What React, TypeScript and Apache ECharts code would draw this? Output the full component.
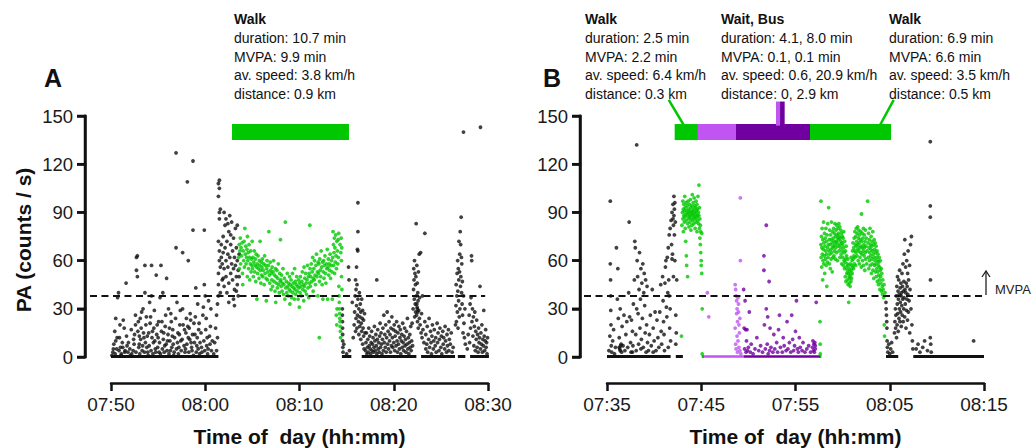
import React, { useEffect, useRef } from "react";
import * as echarts from "echarts";

// ---------- axes ----------
const START_A = 7 * 60 + 50; // 07:50
const START_B = 7 * 60 + 35; // 07:35
const X_MAX = 40;
const X_STEP = 10;
const Y_MAX = 150;
const Y_STEP = 30;
const Y_TICKS = [0, 30, 60, 90, 120, 150];
const MVPA_THRESHOLD = 38;

// ---------- texts ----------
const yTitle = "PA (counts / s)";
const xTitle = "Time of  day (hh:mm)";
const noteA = ["Walk", "duration: 10.7 min", "MVPA: 9.9 min", "av. speed: 3.8 km/h", "distance: 0.9 km"];
const noteB1 = ["Walk", "duration: 2.5 min", "MVPA: 2.2 min", "av. speed: 6.4 km/h", "distance: 0.3 km"];
const noteB2 = ["Wait, Bus", "duration: 4.1, 8.0 min", "MVPA: 0.1, 0.1 min", "av. speed: 0.6, 20.9 km/h", "distance: 0, 2.9 km"];
const noteB3 = ["Walk", "duration: 6.9 min", "MVPA: 6.6 min", "av. speed: 3.5 km/h", "distance: 0.5 km"];

// ---------- episode bars (minutes from panel start) ----------
const barWalkA = [[12.84, 25.25]];
const barWalkB = [[7.18, 9.65], [21.54, 30.14]];
const barWaitB = [[9.65, 13.68]];
const barBusB = [[13.68, 21.54]];
const stickWaitB = [[17.93, 18.36]];
const stickBusB = [[18.36, 18.85]];
const connectorsB = [[6.55, 8.14], [30.42, 28.97]];
const thresholdSpanA = [-2.23, 39.7];
const thresholdSpanB = [-2.44, 39.8];

// ---------- runs of zero counts [from, to] ----------
const zeroA = [[0, 11.4], [24.5, 25.5], [26.6, 32.4], [32.9, 36.5], [36.8, 37.6], [38.1, 40.1]];
const zeroBBlack = [[0, 6.75], [7.3, 8.05], [29.6, 30.9], [32.5, 40.0]];
const zeroBWalk = [[10.05, 10.3], [22.55, 22.75]];
const zeroBWait = [[10.3, 14.5]];
const zeroBBus = [[14.5, 22.6]];

// ---------- panel A, counts per second (minute, counts) ----------
const restA = [[0.2,3],[0.3,8],[0.4,16],[0.5,24],[0.5,10],[0.6,5],[0.7,37],[0.8,40],[0.9,12],[1.0,6],[1.1,2],[1.2,9],[1.3,23],[1.4,18],[1.5,4],[1.6,46],[1.7,7],[1.8,3],[2.0,5],[2.2,2],[2.4,11],[2.5,14],[2.6,20],[2.6,26],[2.7,62],[2.7,54],[2.8,63],[2.8,50],[2.9,22],[3.0,13],[3.0,8],[3.1,24],[3.2,18],[3.3,4],[3.4,30],[3.5,12],[3.6,57],[3.6,40],[3.7,20],[3.8,6],[3.9,3],[4.0,15],[4.1,34],[4.2,25],[4.3,57],[4.3,38],[4.4,16],[4.5,9],[4.6,29],[4.7,5],[4.8,51],[4.9,20],[5.0,12],[5.1,3],[5.2,37],[5.3,57],[5.4,22],[5.5,40],[5.6,15],[5.7,7],[5.8,26],[5.9,49],[6.0,10],[6.1,30],[6.2,18],[6.3,4],[6.4,22],[6.5,13],[6.6,8],[6.7,3],[6.9,68],[6.9,127],[7.0,34],[7.1,15],[7.2,6],[7.3,20],[7.4,10],[7.6,65],[7.6,30],[7.8,17],[7.9,5],[8.0,24],[8.1,109],[8.2,60],[8.2,12],[8.3,18],[8.4,27],[8.5,9],[8.6,4],[8.7,122],[8.7,79],[8.8,21],[8.9,14],[9.0,43],[9.1,7],[9.2,33],[9.3,17],[9.4,2],[9.6,6],[9.8,31],[9.9,79],[9.9,45],[10.0,38],[10.1,24],[10.2,12],[10.3,5],[10.5,8],[10.6,30]];
const restALow = [[0.1,1],[0.25,5],[0.45,2],[0.65,12],[0.85,4],[0.95,20],[1.05,1],[1.25,6],[1.45,3],[1.65,13],[1.85,9],[2.05,1],[2.15,17],[2.35,4],[2.45,8],[2.65,3],[2.85,16],[2.95,6],[3.05,2],[3.15,11],[3.25,28],[3.35,7],[3.45,15],[3.55,3],[3.65,9],[3.75,25],[3.85,13],[3.95,1],[4.05,7],[4.15,21],[4.25,4],[4.35,12],[4.45,2],[4.55,18],[4.65,10],[4.75,3],[4.85,14],[4.95,6],[5.05,22],[5.15,9],[5.25,2],[5.35,16],[5.45,5],[5.55,11],[5.65,3],[5.75,19],[5.85,8],[5.95,4],[6.05,14],[6.15,2],[6.25,10],[6.35,27],[6.45,6],[6.55,17],[6.65,1],[6.75,12],[6.85,24],[6.95,5],[7.05,9],[7.15,2],[7.25,14],[7.35,29],[7.45,4],[7.55,11],[7.65,20],[7.75,7],[7.85,3],[7.95,15],[8.05,8],[8.15,19],[8.25,3],[8.35,11],[8.45,23],[8.55,6],[8.65,14],[8.75,1],[8.85,9],[8.95,25],[9.05,3],[9.15,12],[9.25,5],[9.35,21],[9.45,9],[9.55,15],[9.65,3],[9.75,26],[9.85,10],[9.95,4],[10.05,17],[10.15,7],[10.25,2],[10.35,35],[10.45,13],[10.55,19],[10.65,4],[10.75,10]];
const riseA = [[10.9,2],[11.0,9],[11.1,18],[11.2,26],[11.2,4],[11.3,33],[11.3,12],[11.4,38],[11.4,45],[11.4,52],[11.5,60],[11.5,66],[11.4,72],[11.5,86],[11.5,90],[11.4,100],[11.5,105],[11.4,108],[11.5,110],[11.6,92],[11.6,56],[11.6,40],[11.7,62],[11.7,70],[11.8,48],[11.8,58],[11.9,65],[11.9,75],[12.0,55],[12.0,44],[12.1,82],[12.1,68],[12.2,60],[12.2,50],[12.3,72],[12.3,40],[12.4,64],[12.4,56],[12.5,78],[12.5,46],[12.6,88],[12.6,62],[12.7,70],[12.7,52],[12.8,84],[12.8,58],[12.9,66],[12.9,48],[13.0,74],[13.0,55],[13.1,62],[13.1,42],[13.2,80],[13.2,57],[13.3,50],[13.3,68],[13.4,60],[13.4,45],[13.5,54],[13.5,38],[13.6,64],[13.6,50],[12.0,90],[12.5,34],[13.0,36],[12.2,86],[13.3,41],[12.7,76],[11.9,49],[12.4,83],[13.1,32],[13.4,82]];
const walkA = [[13.55,62],[13.6,70],[13.62,55],[13.68,66],[13.72,74],[13.75,58],[13.8,68],[13.85,63],[13.9,71],[13.95,52],[13.98,45],[14.02,66],[14.08,60],[14.12,72],[14.15,56],[14.2,80],[14.25,64],[14.3,69],[14.33,58],[14.38,62],[14.42,67],[14.46,50],[14.48,75],[14.52,60],[14.56,65],[14.6,55],[14.65,70],[14.7,62],[14.72,48],[14.78,58],[14.82,66],[14.86,53],[14.9,61],[14.95,57],[14.98,72],[15.02,55],[15.06,62],[15.1,50],[15.15,59],[15.2,66],[15.24,53],[15.28,57],[15.32,61],[15.36,47],[15.4,64],[15.45,56],[15.48,36],[15.52,58],[15.56,52],[15.6,63],[15.64,55],[15.7,49],[15.74,60],[15.78,57],[15.82,72],[15.86,54],[15.9,46],[15.95,59],[15.98,51],[16.02,56],[16.06,61],[16.1,50],[16.15,54],[16.2,58],[16.25,45],[16.3,63],[16.35,52],[16.4,57],[16.45,49],[16.48,35],[16.52,55],[16.56,60],[16.6,48],[16.65,53],[16.7,57],[16.75,78],[16.8,51],[16.85,46],[16.9,59],[16.95,54],[16.98,42],[17.02,52],[17.06,48],[17.1,56],[17.15,44],[17.2,53],[17.25,60],[17.3,47],[17.35,51],[17.4,41],[17.45,55],[17.48,34],[17.52,50],[17.56,46],[17.6,54],[17.65,43],[17.7,49],[17.75,58],[17.8,45],[17.85,40],[17.9,52],[17.95,47],[17.98,73],[18.02,48],[18.06,44],[18.1,51],[18.15,41],[18.2,46],[18.25,55],[18.3,39],[18.35,45],[18.4,49],[18.45,36],[18.5,84],[18.55,43],[18.6,47],[18.65,40],[18.7,52],[18.75,44],[18.8,38],[18.85,46],[18.9,42],[18.95,50],[18.98,33],[19.02,45],[19.06,41],[19.1,48],[19.15,37],[19.2,44],[19.25,52],[19.3,40],[19.35,46],[19.4,43],[19.45,36],[19.48,55],[19.52,42],[19.56,47],[19.6,39],[19.65,45],[19.7,50],[19.75,41],[19.8,44],[19.85,36],[19.9,48],[19.95,43],[19.98,31],[20.02,46],[20.06,40],[20.1,50],[20.15,44],[20.2,38],[20.25,47],[20.3,53],[20.35,42],[20.4,45],[20.45,35],[20.48,56],[20.52,44],[20.56,49],[20.6,41],[20.65,52],[20.7,46],[20.75,39],[20.8,48],[20.85,57],[20.9,43],[20.95,50],[20.98,37],[21.02,52],[21.06,46],[21.1,82],[21.12,55],[21.15,44],[21.2,50],[21.25,58],[21.3,47],[21.35,53],[21.4,62],[21.45,41],[21.48,49],[21.52,55],[21.56,48],[21.6,60],[21.65,51],[21.7,45],[21.75,57],[21.8,64],[21.85,50],[21.9,53],[21.95,38],[21.98,59],[22.02,52],[22.06,58],[22.1,12],[22.12,47],[22.15,61],[22.2,54],[22.25,50],[22.3,66],[22.35,56],[22.4,45],[22.45,59],[22.48,36],[22.52,53],[22.56,60],[22.6,49],[22.65,57],[22.7,63],[22.75,52],[22.8,46],[22.85,58],[22.9,55],[22.95,67],[22.98,36],[23.02,56],[23.06,61],[23.1,51],[23.15,58],[23.2,54],[23.25,64],[23.3,49],[23.35,57],[23.4,60],[23.45,53],[23.48,36],[23.52,62],[23.56,78],[23.6,70],[23.62,57],[23.66,65],[23.7,74],[23.72,52],[23.76,68],[23.8,59],[23.84,76],[23.88,63],[23.92,55],[23.96,72],[23.98,30],[24.02,66],[24.06,58],[24.1,73],[24.12,62],[24.16,77],[24.18,44],[24.2,38],[24.22,34],[24.24,30],[24.26,27],[24.28,24],[24.3,22],[24.32,19],[24.34,16],[24.36,12],[24.3,70],[24.38,65],[24.42,74],[24.45,60],[24.48,68],[24.5,42],[24.46,50],[23.9,26],[23.95,20]];
const afterA = [[24.55,30],[24.55,26],[24.56,22],[24.57,18],[24.58,14],[24.58,10],[24.6,6],[24.62,3],[24.7,8],[25.0,2],[25.3,4],[25.2,56],[25.25,48],[25.6,34],[25.7,12],[25.8,20],[25.85,28],[25.9,38],[25.95,16],[26.0,42],[26.0,24],[26.05,32],[26.1,18],[26.1,45],[26.15,26],[26.2,96],[26.2,78],[26.15,67],[26.18,66],[26.2,36],[26.25,22],[26.3,30],[26.3,14],[26.35,40],[26.4,25],[26.4,19],[26.45,33],[26.5,28],[26.5,11],[26.55,21],[26.6,36],[26.6,16],[26.65,24],[26.7,29],[26.7,8],[26.75,18],[26.8,13],[26.8,23],[26.85,5],[26.9,27],[26.95,15],[25.95,48],[26.05,56]];
const lowA1 = [[27.0,4],[27.05,9],[27.1,15],[27.15,2],[27.2,6],[27.25,11],[27.3,3],[27.35,18],[27.4,7],[27.45,13],[27.5,5],[27.55,2],[27.6,9],[27.65,16],[27.7,4],[27.75,8],[27.8,12],[27.85,3],[27.9,6],[27.95,19],[28.0,10],[28.05,4],[28.1,14],[28.15,7],[28.2,48],[28.2,2],[28.25,11],[28.3,17],[28.35,5],[28.4,9],[28.45,3],[28.5,13],[28.55,21],[28.6,6],[28.65,15],[28.7,8],[28.75,2],[28.8,11],[28.85,18],[28.9,4],[28.95,26],[29.0,9],[29.05,14],[29.1,6],[29.15,20],[29.2,3],[29.25,12],[29.3,28],[29.35,8],[29.4,16],[29.45,5],[29.5,22],[29.55,10],[29.6,14],[29.65,3],[29.7,18],[29.75,7],[29.8,25],[29.85,12],[29.9,6],[29.95,17],[30.0,9],[30.05,20],[30.1,4],[30.15,13],[30.2,16],[30.25,7],[30.3,22],[30.35,10],[30.4,3],[30.45,15],[30.5,8],[30.55,19],[30.6,5],[30.65,12],[30.7,17],[30.75,2],[30.8,10],[30.85,14],[30.9,6],[30.95,21],[31.0,9],[31.05,4],[31.1,13],[31.15,18],[31.2,7],[31.25,11],[31.3,3],[31.35,16],[31.4,8],[31.45,24],[31.5,5],[31.55,12],[31.6,2],[31.65,9],[31.7,14],[31.75,6],[31.8,19],[31.85,4],[31.9,10],[31.95,21],[32.0,7]];
const peakA1 = [[32.05,30],[32.1,42],[32.12,55],[32.15,48],[32.18,36],[32.2,60],[32.22,25],[32.25,52],[32.28,33],[32.3,45],[32.32,28],[32.35,50],[32.38,83],[32.4,38],[32.42,26],[32.45,57],[32.48,31],[32.5,46],[32.52,22],[32.55,40],[32.58,35],[32.6,18],[32.62,53],[32.65,29],[32.7,64],[32.72,24],[32.75,37],[32.8,20],[32.85,65],[32.9,15],[32.95,27],[33.0,12],[33.05,38],[33.1,17],[33.2,9],[33.3,77],[33.3,22],[33.4,5],[32.5,30],[32.55,28],[32.45,33]];
const lowA2 = [[33.4,14],[33.5,8],[33.55,19],[33.6,3],[33.7,11],[33.75,24],[33.8,6],[33.9,16],[33.95,9],[34.0,2],[34.05,13],[34.1,20],[34.2,5],[34.25,10],[34.3,17],[34.4,7],[34.45,12],[34.5,3],[34.6,21],[34.65,9],[34.7,15],[34.8,4],[34.85,11],[34.9,18],[35.0,6],[35.05,13],[35.1,2],[35.2,16],[35.25,8],[35.3,12],[35.4,5],[35.45,19],[35.5,10],[35.6,3],[35.65,14],[35.7,7],[35.8,17],[35.85,4],[35.9,11],[36.0,8],[36.1,15],[36.2,3],[36.3,6]];
const peakA2 = [[36.55,20],[36.6,32],[36.62,45],[36.65,22],[36.7,38],[36.72,52],[36.75,28],[36.78,60],[36.8,41],[36.82,18],[36.85,55],[36.88,35],[36.9,48],[36.92,72],[36.95,25],[36.98,53],[37.0,64],[37.02,30],[37.05,78],[37.08,44],[37.1,70],[37.12,50],[37.15,87],[37.18,62],[37.2,40],[37.22,58],[37.25,33],[37.28,47],[37.3,26],[37.35,15],[37.4,140],[37.4,38],[37.45,21],[37.5,12],[37.55,30],[37.6,8]];
const lowA3 = [[37.8,5],[37.9,14],[38.0,26],[38.05,9],[38.1,33],[38.15,18],[38.2,37],[38.25,63],[38.27,60],[38.3,22],[38.35,30],[38.4,13],[38.45,25],[38.5,7],[38.55,19],[38.6,28],[38.65,4],[38.7,16],[38.75,11],[38.8,23],[38.85,6],[38.9,14],[38.95,3],[39.0,18],[39.05,9],[39.1,12],[39.15,44],[39.2,143],[39.2,5],[39.25,15],[39.3,8],[39.35,20],[39.4,3],[39.45,11],[39.5,7],[39.55,29],[39.6,13],[39.65,4],[39.7,10],[39.75,17],[39.8,6],[39.85,9],[39.9,2],[39.95,12]];

// ---------- panel B, counts per second (minute, counts) ----------
const restB = [[0.2,4],[0.3,13],[0.35,97],[0.35,58],[0.38,48],[0.4,38],[0.4,29],[0.42,20],[0.45,7],[0.5,3],[0.6,10],[0.7,17],[0.8,2],[0.9,6],[1.0,68],[1.1,36],[1.15,55],[1.2,24],[1.3,12],[1.35,5],[1.4,30],[1.5,8],[1.55,3],[1.6,19],[1.7,7],[1.8,26],[1.9,4],[2.0,14],[2.1,22],[2.2,6],[2.3,40],[2.35,84],[2.4,25],[2.5,9],[2.55,3],[2.6,23],[2.7,16],[2.75,7],[2.8,33],[2.9,48],[2.95,72],[3.0,68],[3.05,14],[3.1,4],[3.15,132],[3.15,30],[3.2,60],[3.25,50],[3.3,27],[3.35,8],[3.4,42],[3.45,65],[3.5,18],[3.55,36],[3.6,55],[3.65,11],[3.7,46],[3.75,24],[3.8,58],[3.85,6],[3.9,40],[3.95,52],[4.0,32],[4.05,15],[4.1,48],[4.15,3],[4.2,20],[4.25,44],[4.3,9],[4.4,4],[4.5,14],[4.6,26],[4.7,7],[4.8,42],[4.9,18],[5.0,10],[5.1,28],[5.2,4],[5.3,23],[5.4,12],[5.5,6],[5.6,28],[5.7,45],[5.75,16],[5.8,8],[5.9,50],[5.95,35],[6.0,22],[6.05,14],[6.1,4],[6.15,46],[6.2,56],[6.25,60],[6.3,31],[6.35,25],[6.4,62],[6.45,40],[6.5,6],[6.5,68],[6.55,48],[6.6,76],[6.6,38],[6.65,18],[6.7,80],[6.7,30],[6.75,10],[6.8,85],[6.85,70],[6.9,90],[6.9,61],[6.95,64],[7.0,95],[7.0,86],[7.05,82],[7.05,50],[7.1,100],[7.1,88],[7.15,92],[7.15,76],[7.2,96],[7.2,60],[7.25,84],[7.3,26],[7.35,15],[7.3,8],[7.4,48],[1.3,6],[1.4,4],[1.45,7],[2.7,3],[3.6,5],[4.9,3]];
const walkB1 = [[7.9,13],[7.95,82],[8.0,90],[8.05,97],[8.05,86],[8.1,92],[8.1,78],[8.15,88],[8.15,95],[8.2,84],[8.2,91],[8.25,100],[8.25,87],[8.3,93],[8.3,80],[8.35,72],[8.35,89],[8.4,96],[8.4,85],[8.42,63],[8.45,91],[8.45,57],[8.5,88],[8.5,94],[8.55,83],[8.55,50],[8.6,90],[8.6,97],[8.65,86],[8.65,92],[8.7,81],[8.7,89],[8.75,95],[8.75,87],[8.8,91],[8.8,84],[8.85,98],[8.85,88],[8.9,93],[8.9,79],[8.95,90],[8.95,86],[9.0,94],[9.0,82],[9.05,89],[9.05,101],[9.1,91],[9.1,85],[9.15,96],[9.15,88],[9.2,92],[9.2,83],[9.25,99],[9.25,87],[9.3,90],[9.3,94],[9.35,86],[9.35,80],[9.4,93],[9.4,89],[9.45,84],[9.45,97],[9.5,91],[9.5,87],[9.55,95],[9.55,78],[9.6,88],[9.6,92],[9.65,85],[9.65,100],[9.7,90],[9.7,83],[9.75,107],[9.75,88],[9.8,93],[9.8,80],[9.85,86],[9.85,74],[9.9,82],[9.9,70],[9.95,78],[9.95,65],[10.0,60],[10.0,57],[10.05,52],[10.05,77],[10.1,30],[10.1,2]];
const waitB = [[10.65,40],[10.8,25],[13.6,45],[13.65,42],[13.6,18],[13.65,8],[13.7,38],[13.7,5],[13.75,35],[13.75,27],[13.8,30],[13.8,13],[13.85,22],[13.85,3],[13.9,37],[13.9,10],[13.95,33],[13.95,28],[14.0,20],[14.0,6],[14.05,15],[14.1,4],[14.15,99],[14.15,60],[14.2,2],[14.1,24]];
const busB = [[14.5,42],[14.55,18],[14.6,5],[14.65,35],[14.7,17],[14.75,3],[14.8,10],[14.85,17],[14.9,4],[15.0,6],[15.1,28],[15.2,3],[15.3,8],[15.5,2],[15.7,5],[15.9,12],[16.1,4],[16.3,7],[16.5,3],[16.65,63],[16.65,54],[16.7,20],[16.8,5],[16.9,82],[16.9,30],[17.0,8],[17.05,25],[17.1,2],[17.2,47],[17.25,4],[17.3,18],[17.4,6],[17.6,3],[17.7,14],[17.8,5],[18.0,9],[18.1,3],[18.2,17],[18.3,26],[18.4,6],[18.6,3],[18.7,12],[18.8,7],[19.0,4],[19.1,22],[19.2,5],[19.35,9],[19.5,3],[19.6,26],[19.7,11],[19.8,4],[19.9,7],[20.0,16],[20.1,35],[20.2,5],[20.3,3],[20.4,12],[20.5,6],[20.7,4],[20.8,9],[21.0,3],[21.2,5],[21.4,7],[21.6,3],[21.8,6],[21.85,10],[21.9,4],[21.95,8],[22.0,3],[22.05,9],[22.1,5],[22.1,7],[22.2,34]];
const walkB2 = [[22.6,22],[22.62,8],[22.63,2],[22.7,97],[22.7,70],[22.72,62],[22.75,75],[22.78,56],[22.8,68],[22.82,80],[22.85,64],[22.88,48],[22.9,73],[22.92,60],[22.95,67],[22.98,84],[23.0,58],[23.02,71],[23.05,63],[23.08,77],[23.1,52],[23.12,69],[23.15,74],[23.18,61],[23.2,66],[23.22,80],[23.25,57],[23.28,72],[23.3,64],[23.32,44],[23.35,76],[23.38,59],[23.4,68],[23.42,83],[23.45,62],[23.48,70],[23.52,93],[23.55,66],[23.58,73],[23.6,58],[23.62,79],[23.65,64],[23.68,70],[23.7,55],[23.72,76],[23.75,67],[23.78,61],[23.8,73],[23.82,84],[23.85,65],[23.88,71],[23.9,53],[23.92,78],[23.95,68],[23.98,62],[24.0,74],[24.02,69],[24.05,80],[24.08,63],[24.1,72],[24.12,77],[24.15,66],[24.18,83],[24.2,70],[24.22,61],[24.25,75],[24.28,68],[24.3,79],[24.32,72],[24.35,65],[24.38,82],[24.4,71],[24.42,76],[24.45,60],[24.48,74],[24.5,80],[24.52,69],[24.55,77],[24.58,73],[24.6,83],[24.62,66],[24.65,75],[24.68,70],[24.7,81],[24.72,62],[24.75,74],[24.78,68],[24.8,79],[24.82,72],[24.85,64],[24.88,77],[24.9,58],[24.92,71],[24.95,66],[24.98,75],[25.0,70],[25.02,62],[25.05,74],[25.08,57],[25.1,68],[25.12,78],[25.15,60],[25.18,65],[25.2,55],[25.22,72],[25.25,59],[25.28,50],[25.3,66],[25.32,61],[25.35,47],[25.38,69],[25.4,56],[25.42,63],[25.45,52],[25.48,58],[25.5,48],[25.52,54],[25.55,61],[25.58,45],[25.6,52],[25.62,57],[25.65,34],[25.68,50],[25.7,46],[25.72,55],[25.75,49],[25.78,53],[25.8,44],[25.82,58],[25.85,51],[25.88,47],[25.9,62],[25.92,54],[25.95,49],[25.98,57],[26.0,60],[26.02,52],[26.05,66],[26.08,56],[26.1,71],[26.12,61],[26.15,55],[26.18,68],[26.2,63],[26.22,74],[26.25,58],[26.28,66],[26.3,78],[26.32,62],[26.35,70],[26.38,57],[26.4,75],[26.42,65],[26.45,80],[26.48,69],[26.5,72],[26.52,63],[26.55,77],[26.58,67],[26.6,81],[26.62,70],[26.65,60],[26.68,74],[26.7,66],[26.72,79],[26.75,71],[26.78,58],[26.8,76],[26.82,68],[26.85,62],[26.88,73],[26.9,65],[26.92,78],[26.95,69],[26.98,56],[27.0,89],[27.02,72],[27.05,64],[27.08,77],[27.1,68],[27.12,60],[27.15,74],[27.18,66],[27.2,80],[27.22,57],[27.25,70],[27.28,63],[27.3,76],[27.32,68],[27.35,54],[27.38,72],[27.4,65],[27.42,79],[27.45,61],[27.48,69],[27.5,74],[27.55,58],[27.6,66],[27.65,97],[27.7,71],[27.72,62],[27.75,77],[27.78,55],[27.8,68],[27.82,73],[27.85,60],[27.88,65],[27.9,80],[27.92,57],[27.95,70],[27.98,63],[28.0,67],[28.02,75],[28.05,52],[28.08,69],[28.1,61],[28.12,72],[28.15,58],[28.18,66],[28.2,78],[28.22,54],[28.25,64],[28.28,70],[28.3,49],[28.32,62],[28.35,73],[28.38,57],[28.4,67],[28.42,60],[28.45,71],[28.48,53],[28.5,65],[28.52,58],[28.55,69],[28.58,50],[28.6,62],[28.62,55],[28.65,66],[28.68,47],[28.7,60],[28.72,53],[28.75,64],[28.78,57],[28.8,45],[28.82,59],[28.85,51],[28.88,62],[28.9,48],[28.92,56],[28.95,42],[28.98,54],[29.0,60],[29.03,50],[29.06,46],[29.1,55],[29.13,41],[29.16,52],[29.2,44],[29.23,39],[29.26,48],[29.3,42],[29.35,37],[29.4,45],[29.42,20],[29.45,13],[29.5,40]];
const afterB = [[29.6,34],[29.62,30],[29.65,26],[29.68,22],[29.7,18],[29.72,10],[29.75,6],[29.8,3],[29.9,8],[30.0,2],[30.1,5],[30.2,9],[30.3,3],[30.5,15],[30.55,22],[30.6,30],[30.62,18],[30.65,26],[30.7,38],[30.72,12],[30.75,44],[30.78,20],[30.8,33],[30.82,50],[30.85,27],[30.88,41],[30.9,16],[30.92,36],[30.95,48],[30.98,24],[31.0,39],[31.02,30],[31.05,54],[31.08,22],[31.1,43],[31.12,34],[31.15,28],[31.18,46],[31.2,38],[31.22,19],[31.25,40],[31.28,32],[31.3,52],[31.32,26],[31.35,44],[31.38,36],[31.4,58],[31.42,22],[31.45,41],[31.48,30],[31.5,47],[31.52,37],[31.55,64],[31.58,25],[31.6,73],[31.62,42],[31.65,33],[31.68,56],[31.7,40],[31.72,18],[31.75,46],[31.78,29],[31.8,60],[31.82,36],[31.85,44],[31.88,23],[31.9,52],[31.92,39],[31.95,66],[31.98,28],[32.0,48],[32.05,35],[32.1,57],[32.12,15],[32.15,42],[32.2,70],[32.25,30],[32.3,75],[32.35,20],[32.4,10],[32.45,5]];
const lateB = [[32.8,5],[33.0,8],[33.2,3],[33.5,6],[33.7,10],[34.0,4],[34.3,134],[34.3,94],[34.3,87],[34.32,48],[34.3,12],[34.35,8],[34.4,3],[38.9,10]];

// ---------- colours ----------
const BLACK = "#111111";
const GREEN = "#00c800";
const WAIT = "#c055f2";
const BUS = "#7000a0";
const FONT = '"Liberation Sans", Arial, Helvetica, sans-serif';

const pad = (n: number) => (n < 10 ? "0" + n : "" + n);
const clock = (start: number) => (v: number) => {
  const m = start + v;
  return pad(Math.floor(m / 60)) + ":" + pad(Math.round(m % 60));
};

const BAR_LOW = 135;
const BAR_HIGH = 145;
const STICK_TOP = 159;
const CONNECT_LOW = 144.4;
const CONNECT_TOP = 160;
const AXIS_W = 2.5;
const TICK_LEN = 8;
// layout: the y axis stands a little left of where the time axis begins
const Y_OFFSETS = [26, 27];
const PLOT_LEFT = [111, 607];
const PLOT_TOP = 116;
const PLOT_W = 377;
const PLOT_H = 241;
const xStartOf = (g: number) => (-X_MAX * Y_OFFSETS[g]) / PLOT_W;

function segSeries(data: number[][], grid: number, color: string, width: number) {
  return {
    type: "custom",
    xAxisIndex: grid,
    yAxisIndex: grid,
    z: 1,
    silent: true,
    data,
    renderItem: (_p: any, api: any) => {
      const a = api.coord([api.value(0), 0]);
      const b = api.coord([api.value(1), 0]);
      return { type: "line", shape: { x1: a[0], y1: a[1] - 0.5, x2: b[0], y2: b[1] - 0.5 }, style: { stroke: color, lineWidth: width } };
    },
  };
}

function rectSeries(data: number[][], grid: number, color: string, low: number, high: number) {
  return {
    type: "custom",
    xAxisIndex: grid,
    yAxisIndex: grid,
    z: 5,
    silent: true,
    data,
    renderItem: (_p: any, api: any) => {
      const a = api.coord([api.value(0), high]);
      const b = api.coord([api.value(1), low]);
      return { type: "rect", shape: { x: a[0], y: a[1], width: b[0] - a[0], height: b[1] - a[1] }, style: { fill: color } };
    },
  };
}

function connectorSeries(data: number[][], grid: number, color: string) {
  return {
    type: "custom",
    xAxisIndex: grid,
    yAxisIndex: grid,
    z: 4,
    silent: true,
    data,
    renderItem: (_p: any, api: any) => {
      const a = api.coord([api.value(0), CONNECT_TOP]);
      const b = api.coord([api.value(1), CONNECT_LOW]);
      return { type: "line", shape: { x1: a[0], y1: a[1], x2: b[0], y2: b[1] }, style: { stroke: color, lineWidth: 2.5 } };
    },
  };
}

// y axis line + ticks drawn at the left edge of the plot grid, through the scales
function yFrame(grid: number) {
  return {
    type: "custom",
    xAxisIndex: grid,
    yAxisIndex: grid,
    z: 30,
    silent: true,
    data: Y_TICKS.map((v) => [xStartOf(grid), v]),
    renderItem: (params: any, api: any) => {
      const p = api.coord([api.value(0), api.value(1)]);
      const children: any[] = [
        { type: "rect", shape: { x: p[0] - TICK_LEN, y: p[1] - AXIS_W / 2, width: TICK_LEN + AXIS_W / 2, height: AXIS_W }, style: { fill: BLACK } },
      ];
      if (params.dataIndex === 0) {
        const top = api.coord([api.value(0), Y_MAX]);
        children.push({ type: "rect", shape: { x: p[0] - AXIS_W / 2, y: top[1] - AXIS_W / 2, width: AXIS_W, height: p[1] - top[1] + AXIS_W }, style: { fill: BLACK } });
      }
      return { type: "group", children };
    },
  };
}

function dots(data: number[][], grid: number, color: string) {
  return {
    type: "scatter",
    xAxisIndex: grid,
    yAxisIndex: grid,
    symbol: "circle",
    symbolSize: 3.8,
    z: 2,
    silent: true,
    itemStyle: { color },
    data,
  };
}

function threshold(span: number[], grid: number) {
  return {
    type: "line",
    xAxisIndex: grid,
    yAxisIndex: grid,
    symbol: "none",
    silent: true,
    z: 20,
    lineStyle: { color: BLACK, width: 2, type: [7, 4.5] },
    data: [[span[0], MVPA_THRESHOLD], [span[1], MVPA_THRESHOLD]],
  };
}

// plot grid x axis: hidden, starts at the y-axis position
function plotXAxis(grid: number) {
  return { type: "value", gridIndex: grid, min: xStartOf(grid), max: X_MAX, show: false };
}

// visible time axis on its own grid, which starts at 0 min
function timeXAxis(grid: number, start: number) {
  return {
    type: "value",
    gridIndex: grid,
    position: "bottom",
    min: 0,
    max: X_MAX,
    interval: X_STEP,
    offset: 26,
    axisLine: { show: true, onZero: false, lineStyle: { color: BLACK, width: AXIS_W } },
    axisTick: { show: true, length: TICK_LEN, lineStyle: { color: BLACK, width: AXIS_W } },
    axisLabel: { formatter: clock(start), fontSize: 19, color: "#1a1a1a", fontFamily: FONT, margin: 12 },
    splitLine: { show: false },
  };
}

function plotYAxis(grid: number) {
  return {
    type: "value",
    gridIndex: grid,
    position: "left",
    min: 0,
    max: Y_MAX,
    interval: Y_STEP,
    axisLine: { show: true, onZero: false, lineStyle: { color: BLACK, width: AXIS_W } },
    axisTick: { show: true, length: TICK_LEN, lineStyle: { color: BLACK, width: AXIS_W } },
    axisLabel: { fontSize: 18.5, color: "#1a1a1a", fontFamily: FONT, margin: 12 },
    splitLine: { show: false },
  };
}

function hiddenYAxis(grid: number) {
  return { type: "value", gridIndex: grid, min: 0, max: Y_MAX, show: false };
}

function noteBlock(lines: string[], x: number) {
  return lines.map((t, i) => ({
    type: "text",
    x,
    y: 19 + i * 18.8,
    silent: true,
    style: {
      text: t,
      fontSize: 14,
      fontWeight: i === 0 ? "bold" : "normal",
      fontFamily: FONT,
      fill: "#111",
      textAlign: "left",
      textVerticalAlign: "middle",
    },
  }));
}

const staticGraphics: any[] = [
  { type: "text", x: 44, y: 78, silent: true, style: { text: "A", fontSize: 25, fontWeight: "bold", fontFamily: FONT, fill: "#111", textAlign: "left", textVerticalAlign: "middle" } },
  { type: "text", x: 543, y: 78, silent: true, style: { text: "B", fontSize: 25, fontWeight: "bold", fontFamily: FONT, fill: "#111", textAlign: "left", textVerticalAlign: "middle" } },
  { type: "text", x: 23, y: 240, rotation: Math.PI / 2, silent: true, style: { text: yTitle, fontSize: 21, fontWeight: "bold", fontFamily: FONT, fill: "#111", textAlign: "center", textVerticalAlign: "middle" } },
  { type: "text", x: 299.5, y: 436, silent: true, style: { text: xTitle, fontSize: 21, fontWeight: "bold", fontFamily: FONT, fill: "#111", textAlign: "center", textVerticalAlign: "middle" } },
  { type: "text", x: 795.5, y: 436, silent: true, style: { text: xTitle, fontSize: 21, fontWeight: "bold", fontFamily: FONT, fill: "#111", textAlign: "center", textVerticalAlign: "middle" } },
  ...noteBlock(noteA, 234),
  ...noteBlock(noteB1, 585),
  ...noteBlock(noteB2, 721),
  ...noteBlock(noteB3, 889),
  { type: "line", silent: true, shape: { x1: 986, y1: 295, x2: 986, y2: 271 }, style: { stroke: "#222", lineWidth: 1.3 } },
  { type: "polyline", silent: true, shape: { points: [[982, 277], [986, 271], [990, 277]] }, style: { stroke: "#222", lineWidth: 1.3, fill: "none" } },
  { type: "text", x: 995, y: 289, silent: true, style: { text: "MVPA", fontSize: 13, fontFamily: FONT, fill: "#222", textAlign: "left", textVerticalAlign: "middle" } },
];

export default function App() {
  const ref = useRef<HTMLDivElement>(null);
  useEffect(() => {
    if (!ref.current) return;
    const chart = echarts.init(ref.current, undefined, { renderer: "svg" });
    const blackA = [...restA, ...restALow, ...riseA, ...afterA, ...lowA1, ...peakA1, ...lowA2, ...peakA2, ...lowA3];
    const blackB = [...restB, ...afterB, ...lateB];
    const plotGrid = (g: number) => ({
      left: PLOT_LEFT[g] - Y_OFFSETS[g],
      top: PLOT_TOP,
      width: PLOT_W + Y_OFFSETS[g],
      height: PLOT_H,
      containLabel: false,
      outerBoundsMode: "none",
    });
    const timeGrid = (g: number) => ({ left: PLOT_LEFT[g], top: PLOT_TOP, width: PLOT_W, height: PLOT_H, containLabel: false, outerBoundsMode: "none" });
    const option: any = {
      animation: false,
      backgroundColor: "#ffffff",
      grid: [plotGrid(0), plotGrid(1), timeGrid(0), timeGrid(1)],
      xAxis: [plotXAxis(0), plotXAxis(1), timeXAxis(2, START_A), timeXAxis(3, START_B)],
      yAxis: [plotYAxis(0), plotYAxis(1), hiddenYAxis(2), hiddenYAxis(3)],
      series: [
        { type: "scatter", xAxisIndex: 2, yAxisIndex: 2, data: [], silent: true },
        { type: "scatter", xAxisIndex: 3, yAxisIndex: 3, data: [], silent: true },

        yFrame(0),
        segSeries(zeroA, 0, BLACK, 3),
        dots(blackA, 0, BLACK),
        dots(walkA, 0, GREEN),
        threshold(thresholdSpanA, 0),
        rectSeries(barWalkA, 0, GREEN, BAR_LOW, BAR_HIGH),

        yFrame(1),
        segSeries(zeroBBlack, 1, BLACK, 3),
        segSeries(zeroBWalk, 1, GREEN, 3),
        segSeries(zeroBWait, 1, WAIT, 2.5),
        segSeries(zeroBBus, 1, BUS, 2.5),
        dots(blackB, 1, BLACK),
        dots(walkB1, 1, GREEN),
        dots(walkB2, 1, GREEN),
        dots(waitB, 1, WAIT),
        dots(busB, 1, BUS),
        threshold(thresholdSpanB, 1),
        rectSeries(barWalkB, 1, GREEN, BAR_LOW, BAR_HIGH),
        rectSeries(barWaitB, 1, WAIT, BAR_LOW, BAR_HIGH),
        rectSeries(barBusB, 1, BUS, BAR_LOW, BAR_HIGH),
        rectSeries(stickWaitB, 1, WAIT, BAR_HIGH - 1, STICK_TOP),
        rectSeries(stickBusB, 1, BUS, BAR_HIGH - 1, STICK_TOP),
        connectorSeries(connectorsB, 1, GREEN),
      ],
      graphic: staticGraphics,
    };
    chart.setOption(option);
    return () => chart.dispose();
  }, []);
  return <div ref={ref} style={{ position: "fixed", left: 0, top: 0, width: 1034, height: 448, background: "#fff" }} />;
}
